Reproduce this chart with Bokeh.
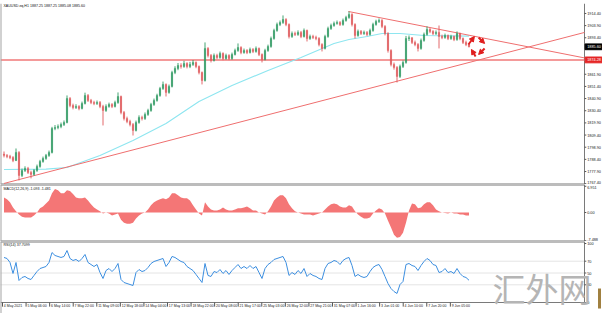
from bokeh.plotting import figure
from bokeh.layouts import column
from bokeh.models import ColumnDataSource, Range1d, Label, Arrow, NormalHead, Span
from bokeh.embed import file_html
from bokeh.resources import INLINE
from bokeh.core.properties import value

FONT = "Liberation Sans"

# ---------------- data ----------------
closes = [1791.8, 1790.9, 1790.0, 1787.5, 1794.4, 1774.5, 1778.8, 1780.6, 1777.1, 1775.4,
          1778.8, 1782.3, 1786.6, 1789.2, 1791.8, 1794.4, 1815.1, 1815.9, 1816.8, 1818.5,
          1820.3, 1841.0, 1834.9, 1833.2, 1834.1, 1832.4, 1836.7, 1843.6, 1839.3, 1837.5,
          1836.7, 1837.5, 1834.1, 1830.6, 1834.1, 1835.8, 1834.1, 1837.5, 1842.7, 1828.9,
          1823.7, 1821.1, 1818.5, 1813.4, 1820.3, 1824.6, 1823.7, 1827.2, 1830.6, 1835.8,
          1839.3, 1843.6, 1849.6, 1853.1, 1846.2, 1851.4, 1863.4, 1866.9, 1869.5, 1868.6,
          1871.2, 1868.6, 1870.4, 1872.1, 1868.6, 1863.4, 1856.5, 1884.2, 1878.1, 1873.8,
          1878.1, 1876.4, 1879.9, 1875.5, 1878.1, 1875.5, 1879.0, 1882.4, 1885.0, 1880.7,
          1882.4, 1880.7, 1883.3, 1881.6, 1884.2, 1879.0, 1874.7, 1882.4, 1885.9, 1892.8,
          1899.7, 1904.9, 1906.6, 1909.2, 1904.9, 1894.5, 1897.1, 1896.3, 1898.0, 1894.5,
          1899.7, 1892.8, 1894.5, 1893.7, 1892.8, 1887.6, 1884.2, 1894.5, 1901.4, 1904.0,
          1905.8, 1906.6, 1904.9, 1908.4, 1910.9, 1913.5, 1904.9, 1895.4, 1898.9, 1897.1,
          1898.0, 1896.3, 1899.7, 1904.9, 1907.5, 1908.4, 1903.2, 1897.1, 1882.4, 1870.4,
          1867.8, 1860.0, 1868.6, 1872.1, 1892.8, 1893.4, 1889.4, 1887.6, 1884.2, 1891.1,
          1896.3, 1900.6, 1898.9, 1897.1, 1898.0, 1894.5, 1893.7, 1895.4, 1892.8, 1894.5,
          1891.9, 1897.1, 1892.8, 1889.4, 1887.6, 1885.6]
highs = [1795.2, 1793.0, 1792.3, 1791.2, 1797.8, 1795.5, 1780.5, 1782.4, 1781.9, 1778.6,
         1780.1, 1783.9, 1788.0, 1790.8, 1793.1, 1796.0, 1816.5, 1818.0, 1818.6, 1820.2,
         1822.0, 1843.6, 1842.2, 1836.5, 1836.0, 1835.2, 1838.3, 1846.0, 1844.8, 1840.6,
         1839.0, 1839.2, 1838.8, 1835.5, 1835.9, 1837.4, 1837.0, 1839.1, 1846.2, 1843.5,
         1830.2, 1825.3, 1822.6, 1819.8, 1821.9, 1826.4, 1826.1, 1828.9, 1832.1, 1837.2,
         1840.9, 1845.1, 1851.0, 1855.6, 1854.0, 1853.0, 1864.9, 1868.8, 1871.6, 1871.4,
         1873.5, 1872.3, 1872.6, 1874.2, 1873.0, 1869.5, 1864.3, 1889.4, 1885.3, 1879.4,
         1879.8, 1879.6, 1881.5, 1880.8, 1879.7, 1879.2, 1880.6, 1884.0, 1888.5, 1886.1,
         1884.1, 1883.6, 1884.9, 1884.5, 1885.9, 1885.0, 1879.9, 1883.9, 1887.5, 1894.4,
         1901.2, 1906.5, 1908.3, 1912.7, 1910.3, 1905.8, 1898.8, 1898.7, 1899.8, 1899.3,
         1901.4, 1900.5, 1896.1, 1896.0, 1895.2, 1893.9, 1888.7, 1896.0, 1903.0, 1905.6,
         1907.4, 1908.3, 1907.8, 1910.0, 1912.4, 1916.1, 1914.6, 1905.9, 1900.5, 1900.1,
         1899.6, 1899.2, 1901.3, 1906.4, 1909.0, 1910.1, 1909.5, 1904.3, 1898.2, 1883.5,
         1872.0, 1868.9, 1870.2, 1873.8, 1895.0, 1895.4, 1893.9, 1891.0, 1888.8, 1892.7,
         1897.9, 1903.2, 1901.8, 1900.0, 1899.7, 1904.0, 1896.1, 1897.0, 1896.2, 1896.0,
         1895.3, 1898.9, 1897.9, 1893.7, 1890.9, 1888.4]
lows = [1790.1, 1789.4, 1788.6, 1786.0, 1786.9, 1770.2, 1773.1, 1777.5, 1775.8, 1772.0,
        1774.3, 1777.6, 1781.2, 1785.5, 1788.0, 1790.6, 1793.5, 1813.6, 1814.4, 1815.3,
        1817.2, 1819.5, 1833.4, 1831.6, 1831.9, 1830.8, 1831.5, 1835.8, 1838.0, 1836.1,
        1835.2, 1835.4, 1832.6, 1817.7, 1829.4, 1833.0, 1832.7, 1833.2, 1836.4, 1827.3,
        1822.0, 1819.6, 1816.9, 1809.0, 1812.5, 1819.2, 1822.0, 1822.5, 1826.0, 1829.5,
        1834.6, 1838.2, 1842.5, 1848.4, 1842.7, 1845.1, 1850.5, 1862.0, 1865.4, 1866.8,
        1867.5, 1867.0, 1867.2, 1869.1, 1867.1, 1861.8, 1853.1, 1855.6, 1876.4, 1872.1,
        1872.9, 1875.0, 1875.3, 1874.0, 1874.4, 1874.1, 1874.3, 1878.1, 1881.3, 1879.2,
        1879.6, 1879.3, 1879.8, 1880.2, 1880.5, 1877.6, 1872.1, 1873.8, 1881.3, 1884.8,
        1891.7, 1898.6, 1903.5, 1905.4, 1903.4, 1892.8, 1893.3, 1894.9, 1895.1, 1893.1,
        1893.6, 1890.2, 1891.6, 1892.3, 1891.3, 1886.0, 1881.6, 1883.3, 1893.4, 1900.2,
        1902.9, 1904.7, 1903.6, 1903.8, 1907.3, 1909.8, 1903.2, 1892.8, 1894.3, 1895.8,
        1895.9, 1894.9, 1895.2, 1898.6, 1903.8, 1906.2, 1901.7, 1895.5, 1880.6, 1868.7,
        1865.9, 1854.8, 1858.7, 1867.3, 1871.0, 1890.6, 1888.0, 1886.1, 1881.6, 1883.1,
        1890.0, 1895.2, 1897.4, 1895.7, 1895.8, 1884.2, 1892.2, 1892.5, 1891.4, 1891.6,
        1890.5, 1890.8, 1891.3, 1888.0, 1886.2, 1885.1]
first_open = 1793.0

ma_bar = [0, 14, 21, 32, 43, 54, 65, 76, 88, 99, 110, 115, 121, 126, 132, 140, 155]
ma_vals = [1779.7, 1780.0, 1781.4, 1791.8, 1804.7, 1819.4, 1838.4, 1852.2, 1865.2, 1876.4,
           1888.5, 1891.9, 1894.5, 1897.1, 1897.1, 1895.4, 1894.8]

macd = [4.0, 3.5, 2.7, 1.35, 0.3, -0.5, -1.1, -1.35, -1.35, -1.35,
        -0.8, 0.0, 1.1, 1.6, 2.4, 3.2, 5.1, 6.2, 5.9, 5.1,
        5.1, 5.9, 5.7, 4.9, 4.0, 3.8, 3.8, 4.0, 3.2, 2.2,
        1.35, 0.8, 0.3, -0.3, 0.0, -0.3, -0.8, -0.5, -0.3, -1.9,
        -2.7, -3.0, -3.0, -2.7, -1.6, -0.8, -0.3, 0.0, 0.8, 1.9,
        2.7, 3.2, 3.5, 3.8, 3.5, 4.0, 5.1, 5.1, 4.6, 4.0,
        3.8, 3.8, 3.2, 1.9, 0.8, -0.3, -0.8, 2.7, 1.6, 0.8,
        0.55, 0.55, 0.8, 1.35, 0.8, 0.55, 0.55, 0.8, 1.1, 1.1,
        1.35, 1.6, 1.1, 0.55, 0.55, 0.0, -0.3, -0.5, 0.3, 1.6,
        3.2, 4.0, 4.6, 4.6, 3.8, 2.2, 1.1, 0.3, 0.0, -0.3,
        -0.5, -0.5, -0.5, -0.8, -0.5, -0.3, 0.0, 0.8, 1.6, 2.2,
        2.4, 2.2, 1.6, 1.35, 1.35, 1.9, 1.6, 0.3, -0.5, -1.1,
        -1.6, -1.6, -1.35, -0.3, 0.55, 1.1, 0.8, -0.3, -2.2, -4.0,
        -5.9, -6.7, -6.5, -5.4, -2.7, 0.55, 2.4, 2.2, 1.1, 1.35,
        2.2, 2.7, 2.7, 1.9, 0.8, 0.3, 0.0, -0.15, -0.3, 0.0,
        -0.3, -0.3, -0.5, -0.5, -0.8, -0.8]

rsi = [76.3, 74.6, 67.8, 49.2, 67.8, 37.3, 42.4, 44.1, 40.7, 39.0,
       45.8, 52.5, 57.6, 59.3, 61.0, 67.8, 84.7, 79.7, 78.0, 76.3,
       78.0, 88.1, 74.6, 71.2, 72.9, 69.5, 74.6, 81.4, 67.8, 64.4,
       61.0, 64.4, 50.8, 40.7, 54.2, 57.6, 52.5, 57.6, 66.1, 39.0,
       33.9, 32.2, 30.5, 28.8, 50.8, 55.9, 52.5, 54.2, 59.3, 66.1,
       69.5, 71.2, 72.9, 74.6, 61.0, 67.8, 78.0, 76.3, 72.9, 69.5,
       67.8, 61.0, 57.6, 54.2, 47.5, 40.7, 33.9, 66.1, 45.8, 44.1,
       52.5, 50.8, 55.9, 49.2, 54.2, 47.5, 54.2, 59.3, 64.4, 57.6,
       61.0, 57.6, 62.7, 57.6, 61.0, 50.8, 40.7, 57.6, 64.4, 67.8,
       72.9, 74.6, 76.3, 78.0, 67.8, 45.8, 50.8, 47.5, 54.2, 49.2,
       57.6, 44.1, 49.2, 45.8, 44.1, 40.7, 39.0, 57.6, 66.1, 67.8,
       71.2, 69.5, 64.4, 71.2, 74.6, 76.3, 62.7, 44.1, 47.5, 44.1,
       42.4, 44.1, 52.5, 59.3, 62.7, 64.4, 55.9, 44.1, 32.2, 23.7,
       18.6, 15.3, 30.5, 35.6, 64.4, 66.1, 62.7, 61.0, 54.2, 62.7,
       69.5, 74.6, 71.2, 64.4, 62.7, 50.8, 52.5, 57.6, 50.8, 52.5,
       49.2, 57.6, 49.2, 44.1, 42.4, 37.7]

price_ticks = [1767.4, 1777.9, 1788.4, 1798.9, 1809.4, 1819.9, 1830.4, 1840.9,
               1851.4, 1861.9, 1893.4, 1903.9, 1914.4]
macd_ticks = [6.951, 0.0, -7.488]
macd_tick_labels = ["6.951", "0.00", "-7.488"]
rsi_ticks = [100, 70, 50, 30, 0]
rsi_levels = [30, 50, 70]
time_labels = ["4 May 2021", "5 May 06:00", "6 May 14:00", "7 May 22:00", "11 May 09:00",
               "12 May 18:00", "14 May 04:00", "17 May 13:00", "18 May 22:00", "20 May 08:00",
               "21 May 17:00", "25 May 03:00", "26 May 12:00", "27 May 21:00", "31 May 07:00",
               "1 Jun 16:00", "3 Jun 01:00", "4 Jun 10:00", "7 Jun 20:00", "9 Jun 05:00"]
bars_per_label = 7.857

hline_price = 1874.28
trend_up_bar = [0, 193.5]
trend_up_price = [1767.6, 1898.0]
trend_dn_bar = [114.8, 193.5]
trend_dn_price = [1916.1, 1876.0]
# cyclic arrows drawn near the last bars: (bar0, price0, bar1, price1)
arrow_pts = [(154.8, 1887.6, 156.8, 1894.5), (158.2, 1893.7, 160.2, 1888.5),
             (160.2, 1884.2, 158.2, 1879.0), (157.2, 1877.3, 155.8, 1883.3)]

header_text = "XAUUSD.eq,H1  1887.25 1887.25 1885.08 1885.60"
macd_text = "MACD(12,26,9) -1.093 -1.481"
rsi_text = "RSI(14) 37.7099"
watermark = "汇外网"

# ---------------- layout constants / styles ----------------
BULL = "#2f9a62"
BEAR = "#e0585a"
SEP = "#7a7a7a"
W = 602
X0, AX, X1 = -1.1667, 193.5, 199.5      # window left edge, price-scale line, window right edge
FS = value("3.8px")        # scale labels
FS_T = value("3.5px")      # time labels
FS_H = "3.6px"             # panel headers
TF = value(FONT)

n = len(closes)
bars = list(range(n))
opens = [first_open] + closes[:-1]
colors = [BULL if c >= o else BEAR for o, c in zip(opens, closes)]
src = ColumnDataSource(dict(x=bars, h=highs, l=lows,
                            top=[max(o, c) for o, c in zip(opens, closes)],
                            bot=[min(o, c) for o, c in zip(opens, closes)],
                            color=colors))

x_range = Range1d(X0, X1)


def panel(height, y_range, top=0):
    p = figure(width=W, height=height, x_range=x_range, y_range=y_range,
               toolbar_location=None, output_backend="svg",
               x_axis_location=None, y_axis_location=None,
               min_border_left=0, min_border_right=0,
               min_border_top=top, min_border_bottom=0,
               background_fill_color="white", border_fill_color="white",
               outline_line_color=None)
    p.grid.visible = False
    # window left edge
    p.add_layout(Span(location=X0, dimension="height", line_color="#a3a3a3", line_width=2))
    return p


def scale_labels(p, ticks, labels, y_lo, y_hi, baselines=None):
    """price scale on the right: vertical line, small ticks, labels"""
    p.line([AX, AX], [y_lo, y_hi], line_color=SEP, line_width=1)
    s = ColumnDataSource(dict(y=ticks, text=labels,
                              base=baselines if baselines else ["middle"] * len(ticks)))
    p.segment(x0=AX, x1=AX + 0.6, y0="y", y1="y", source=s, line_color="#555555")
    p.text(x=AX + 0.9, y="y", text="text", source=s, text_font=TF, text_font_size=FS,
           text_color="#222222", text_align="left", text_baseline="base")


def panel_edges(p, y_lo, y_hi, bottom=True, top=True):
    if top:
        p.line([X0, AX], [y_hi, y_hi], line_color=SEP, line_width=2)
    if bottom:
        p.line([X0, AX], [y_lo, y_lo], line_color=SEP, line_width=2)


def header(p, x, y, text):
    p.add_layout(Label(x=x, y=y, text=text, text_font=FONT, text_font_size=FS_H,
                       text_color="#111111", text_baseline="middle"))


# top gray strip
strip = figure(width=W, height=2, toolbar_location=None, output_backend="svg",
               min_border=0, x_axis_location=None, y_axis_location=None,
               background_fill_color="#a3a3a3", border_fill_color="#a3a3a3",
               outline_line_color=None)
strip.grid.visible = False

# ---------------- price panel ----------------
P_LO, P_HI = 1766.7, 1923.0
p1 = panel(182, Range1d(P_LO, P_HI), top=1)
panel_edges(p1, P_LO, P_HI, top=False)
scale_labels(p1, price_ticks, ["%.2f" % t for t in price_ticks], P_LO, P_HI,
             baselines=["bottom"] + ["middle"] * (len(price_ticks) - 1))

p1.line([X0, AX], [hline_price, hline_price], line_color="#f07878", line_width=1.5)
p1.line(ma_bar, ma_vals, line_color="#8ee6f0", line_width=1.1)
p1.line(trend_up_bar, trend_up_price, line_color="#ef6f6f", line_width=1)
p1.line(trend_dn_bar, trend_dn_price, line_color="#ef6f6f", line_width=1)
p1.segment("x", "h", "x", "l", source=src, line_color="color", line_width=0.9)
p1.vbar(x="x", width=0.42, top="top", bottom="bot", source=src,
        fill_color="color", line_color="color", line_width=0.4)
for (x0, y0, x1, y1) in arrow_pts:
    p1.add_layout(Arrow(end=NormalHead(size=5, fill_color="#e01e1e", line_color="#e01e1e"),
                        x_start=x0, y_start=y0, x_end=x1, y_end=y1,
                        line_color="#e01e1e", line_width=2))
header(p1, -0.2, 1920.6, header_text)

# price boxes on the scale (last price, horizontal line level)
box_prices = [closes[-1], hline_price]
box_half = 2.5
bsrc = ColumnDataSource(dict(y=box_prices, top=[v + box_half for v in box_prices],
                             bot=[v - box_half for v in box_prices],
                             text=["%.2f" % v for v in box_prices],
                             fill=["#000000", "#e52525"]))
p1.quad(left=AX + 0.2, right=X1 - 0.2, top="top", bottom="bot", source=bsrc,
        fill_color="fill", line_color="fill")
p1.text(x=AX + 0.9, y="y", text="text", source=bsrc, text_font=TF, text_font_size=FS,
        text_color="white", text_align="left", text_baseline="middle")

# ---------------- MACD panel ----------------
M_LO, M_HI = -7.69, 7.42
p2 = panel(57, Range1d(M_LO, M_HI))
panel_edges(p2, M_LO, M_HI)
scale_labels(p2, macd_ticks, macd_tick_labels, M_LO, M_HI,
             baselines=["top", "middle", "bottom"])
p2.varea(x=bars, y1=[0] * n, y2=macd, fill_color="#f47676")
header(p2, -0.2, 6.1, macd_text)

# ---------------- RSI panel (with time scale) ----------------
R_LO, R_HI = -18.64, 103.39
p3 = panel(72, Range1d(R_LO, R_HI))
panel_edges(p3, 0, R_HI, bottom=False)
p3.line([X0, AX], [0, 0], line_color=SEP, line_width=1)
scale_labels(p3, rsi_ticks, [str(t) for t in rsi_ticks], 0, R_HI)
for lv in rsi_levels:
    p3.line([X0, AX], [lv, lv], line_color="#c8c8c8", line_width=1, line_dash="1 1")
p3.line(bars, rsi, line_color="#3d8fe0", line_width=1)
header(p3, -0.2, 98.3, rsi_text)

xt = [-0.5 + k * bars_per_label for k in range(len(time_labels))]
tsrc = ColumnDataSource(dict(x=xt, xl=[t + 0.45 for t in xt], text=time_labels))
p3.segment(x0="x", x1="x", y0=0, y1=-7.0, source=tsrc, line_color="#555555")
p3.text(x="xl", y=-5.8, text="text", source=tsrc, text_font=TF, text_font_size=FS_T,
        text_color="#222222", text_align="left", text_baseline="middle")

# watermark
p3.text(x=[162.8], y=[25], text=[watermark], text_font=value("Noto Sans CJK SC"),
        text_font_size=value("33px"), text_color="#b5b5b5", text_baseline="middle")
p3.quad(left=[198.0], right=[199.0], top=[23.7], bottom=[-10.2],
        fill_color="#a08040", line_color=None)

layout = column(strip, p1, p2, p3, spacing=0)
open("out.html", "w").write(file_html(layout, INLINE))
